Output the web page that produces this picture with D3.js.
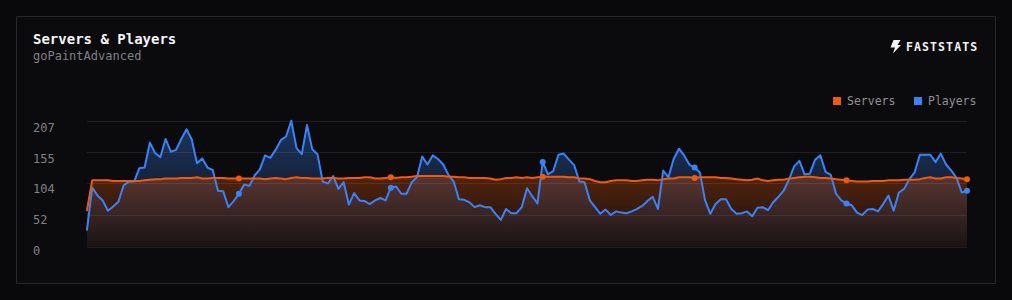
<!DOCTYPE html>
<html>
<head>
<meta charset="utf-8">
<script src="https://cdn.jsdelivr.net/npm/d3@7/dist/d3.min.js"></script>
<style>
  html, body { margin: 0; padding: 0; background: #09090b; }
  svg { display: block; }
</style>
</head>
<body>
<svg id="chart" width="1012" height="300"></svg>
<script>
// ---- Data ----
const title = "Servers & Players";
const subtitle = "goPaintAdvanced";
const brand = "FASTSTATS";
const seriesNames = ["Servers", "Players"];

const servers = [
  60,
  109,109,109,109,108,108,108,108,108,108,
  109,110,111,111,112,112,112,113,113,113,
  114,112,112,113,113,113,112,112,112,112,
  112,112,112,111,112,113,112,111,113,114,
  113,113,112,112,112,113,113,112,112,113,
  113,113,114,114,112,112,113,
  114,113,114,114,115,116,116,116,116,116,
  116,115,115,114,114,113,113,113,113,112,
  110,111,113,113,114,113,114,113,
  114,115,115,115,115,115,114,114,112,112,
  111,108,106,106,108,109,109,109,108,108,
  109,110,110,109,111,112,112,114,
  114,114,113,114,114,114,114,113,113,112,
  111,110,109,110,112,109,108,109,110,110,
  112,113,114,115,115,114,113,113,
  112,111,110,109,108,107,107,107,108,108,
  108,109,109,109,110,110,110,111,113,114,
  112,112,114,114,113,112,111
];

const players = [
  28,97,84,76,59,66,74,101,107,107,
  129,130,171,154,147,177,156,159,177,193,
  176,137,145,130,126,92,91,65,75,87,
  102,100,117,127,150,146,159,175,181,207,
  162,152,200,160,152,107,104,116,95,106,
  69,88,76,75,70,76,80,76,97,99,
  87,87,106,114,148,135,150,144,135,118,
  107,78,77,73,65,68,65,65,54,44,
  62,55,55,65,96,83,71,139,119,124,
  151,153,143,134,107,106,76,65,54,61,
  52,58,56,55,58,62,67,75,82,62,
  125,114,144,161,150,135,130,122,76,54,
  70,78,78,62,54,55,58,50,64,65,
  60,73,82,92,110,132,141,119,120,143,
  150,123,118,87,76,71,68,56,52,61,
  62,58,70,84,59,89,95,111,122,151,
  151,151,139,153,135,125,113,89,92
];

// hourly sample positions (categories)
const hours = d3.range(players.length);
const markerIndices = [29, 58, 87, 116, 145, 168];
const yTickValues = [0, 52, 104, 155, 207];
const yTickLabels = ["0", "52", "104", "155", "207"];

// ---- Drawing ----
const svg = d3.select("#chart");
const W = 1012, H = 300;
const ORANGE = "#f05a0c", BLUE = "#3b82f6";
const MONO = "'DejaVu Sans Mono', 'Liberation Mono', monospace";

svg.append("rect").attr("width", W).attr("height", H).attr("fill", "#09090b");
svg.append("rect")
  .attr("x", 16.5).attr("y", 16.5).attr("width", 979).attr("height", 267)
  .attr("fill", "#0b0b0d").attr("stroke", "#27272a").attr("stroke-width", 1);

svg.append("text").text(title)
  .attr("x", 33).attr("y", 44)
  .attr("font-family", MONO).attr("font-size", 14).attr("font-weight", "bold")
  .attr("fill", "#f4f4f5");
svg.append("text").text(subtitle)
  .attr("x", 33).attr("y", 60)
  .attr("font-family", MONO).attr("font-size", 12)
  .attr("fill", "#808085");

// brand
svg.append("path")
  .attr("d", "M893.5,40 L900.5,40 L897.5,45 L901,45 L893,53.5 L895,47.5 L890.5,47.5 Z")
  .attr("fill", "#f4f4f5");
svg.append("text").text(brand)
  .attr("x", 906).attr("y", 50.5)
  .attr("font-family", MONO).attr("font-size", 11.5).attr("font-weight", "bold")
  .attr("letter-spacing", 1.1)
  .attr("fill", "#f4f4f5");

// legend
const legendX = [833, 914];
const legendColors = [ORANGE, BLUE];
seriesNames.forEach((name, i) => {
  svg.append("rect").attr("x", legendX[i]).attr("y", 97).attr("width", 8).attr("height", 8)
    .attr("fill", legendColors[i]);
  svg.append("text").text(name)
    .attr("x", legendX[i] + 14).attr("y", 105)
    .attr("font-family", MONO).attr("font-size", 11.5)
    .attr("fill", "#8f8f95");
});

// scales
const x = d3.scaleLinear().domain([0, hours.length - 1]).range([87, 967]);
const y = d3.scaleLinear().domain([0, 207]).range([246.7, 120.7]);
const yLabel = d3.scaleLinear().domain([0, 207]).range([251, 128.3]);

// gradients
const defs = svg.append("defs");
function grad(id, color, o0, o1) {
  const g = defs.append("linearGradient").attr("id", id)
    .attr("gradientUnits", "userSpaceOnUse")
    .attr("x1", 0).attr("x2", 0).attr("y1", y(207)).attr("y2", y(0));
  g.append("stop").attr("offset", 0).attr("stop-color", color).attr("stop-opacity", o0);
  g.append("stop").attr("offset", 1).attr("stop-color", color).attr("stop-opacity", o1);
}
grad("gBlue", BLUE, 0.36, 0.03);
grad("gOrange", ORANGE, 0.5, 0.06);

const area = (data) => d3.area().x((d, i) => x(hours[i])).y0(y(0)).y1(d => y(d))(data);
const line = (data) => d3.line().x((d, i) => x(hours[i])).y(d => y(d))(data);

svg.append("path").attr("d", area(players)).attr("fill", "url(#gBlue)");
svg.append("path").attr("d", area(servers)).attr("fill", "url(#gOrange)");

// gridlines (above fills)
svg.append("g").selectAll("line").data(yTickValues).join("line")
  .attr("x1", 87).attr("x2", 967)
  .attr("y1", d => Math.round(y(d)) + 0.5).attr("y2", d => Math.round(y(d)) + 0.5)
  .attr("stroke", "#ffffff").attr("stroke-opacity", 0.08).attr("stroke-width", 1);

// y labels
svg.append("g").selectAll("text").data(yTickValues).join("text")
  .text((d, i) => yTickLabels[i])
  .attr("x", 33).attr("y", d => yLabel(d))
  .attr("dominant-baseline", "central")
  .attr("font-family", MONO).attr("font-size", 12)
  .attr("fill", "#808085");

// lines
svg.append("path").attr("d", line(players))
  .attr("fill", "none").attr("stroke", BLUE).attr("stroke-width", 2)
  .attr("stroke-linejoin", "round").attr("stroke-linecap", "round");
svg.append("path").attr("d", line(servers))
  .attr("fill", "none").attr("stroke", ORANGE).attr("stroke-width", 2)
  .attr("stroke-linejoin", "round").attr("stroke-linecap", "round");

// markers
svg.append("g").selectAll("circle").data(markerIndices).join("circle")
  .attr("cx", i => x(hours[i])).attr("cy", i => y(players[i])).attr("r", 3)
  .attr("fill", BLUE);
svg.append("g").selectAll("circle").data(markerIndices).join("circle")
  .attr("cx", i => x(hours[i])).attr("cy", i => y(servers[i])).attr("r", 3)
  .attr("fill", ORANGE);
</script>
</body>
</html>
